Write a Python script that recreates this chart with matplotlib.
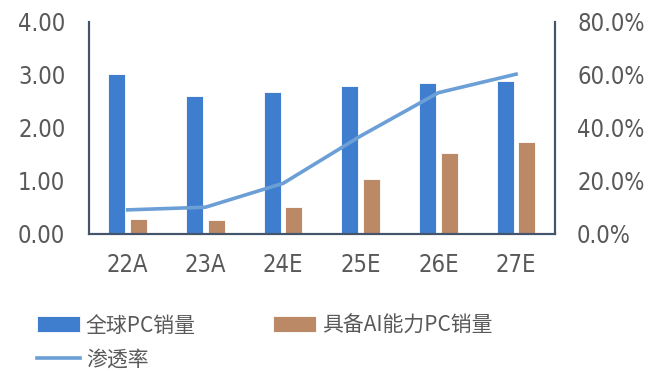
import matplotlib
matplotlib.use("Agg")
import matplotlib.pyplot as plt
import numpy as np

plt.rcParams['font.family'] = ['Noto Sans CJK SC', 'DejaVu Sans']

categories = ["22A", "23A", "24E", "25E", "26E", "27E"]
pc_sales = [3.02, 2.60, 2.67, 2.79, 2.85, 2.89]
ai_pc_sales = [0.28, 0.26, 0.50, 1.03, 1.52, 1.74]
penetration = [9.1, 10.1, 19.1, 37.0, 53.3, 60.3]

blue = "#3F7ECE"
brown = "#BC8967"
line_c = "#6B9FD6"
txt = "#595959"
spine_c = "#44546A"

fig = plt.figure(figsize=(6.49, 3.72), dpi=100)
ax = fig.add_axes([0.137, 0.371, 0.718, 0.570])
ax2 = ax.twinx()

x = np.arange(len(categories))
w = 0.22
b1 = ax.bar(x - 0.14, pc_sales, w, color=blue, edgecolor="white", linewidth=0.6, label="全球PC销量")
b2 = ax.bar(x + 0.14, ai_pc_sales, w, color=brown, edgecolor="white", linewidth=0.6, label="具备AI能力PC销量")
l1, = ax2.plot(x, penetration, color=line_c, linewidth=2.6, label="渗透率")

ax.set_xlim(-0.5, len(categories) - 0.5)
ax.set_ylim(0, 4)
ax2.set_ylim(0, 80)
tickfont = {'family': ['DejaVu Sans'], 'stretch': 'condensed', 'size': 17, 'color': txt}
ax.set_yticks([0, 1, 2, 3, 4])
ax.set_yticklabels([f"{v:.2f}" for v in [0, 1, 2, 3, 4]], fontdict=tickfont)
ax2.set_yticks([0, 20, 40, 60, 80])
ax2.set_yticklabels([f"{v:.1f}%" for v in [0, 20, 40, 60, 80]], fontdict=tickfont)
ax.set_xticks(x)
ax.set_xticklabels(categories, fontdict=tickfont)

for a in (ax, ax2):
    a.tick_params(length=0)
    a.spines['top'].set_visible(False)
    for s in ('left', 'right', 'bottom'):
        a.spines[s].set_color(spine_c)
        a.spines[s].set_linewidth(1.5)
ax.tick_params(axis='y', pad=17)
ax2.tick_params(axis='y', pad=16)
ax.tick_params(axis='x', pad=14)

leg = fig.legend([b1, l1, b2], ["全球PC销量", "渗透率", "具备AI能力PC销量"],
                 ncol=2, loc="upper left", bbox_to_anchor=(0.028, 0.205),
                 frameon=False, fontsize=15, handlelength=2.05, handleheight=0.8,
                 columnspacing=3.7, labelspacing=0.6, handletextpad=0.3,
                 labelcolor=txt)

fig.savefig("out.png", dpi=100)
